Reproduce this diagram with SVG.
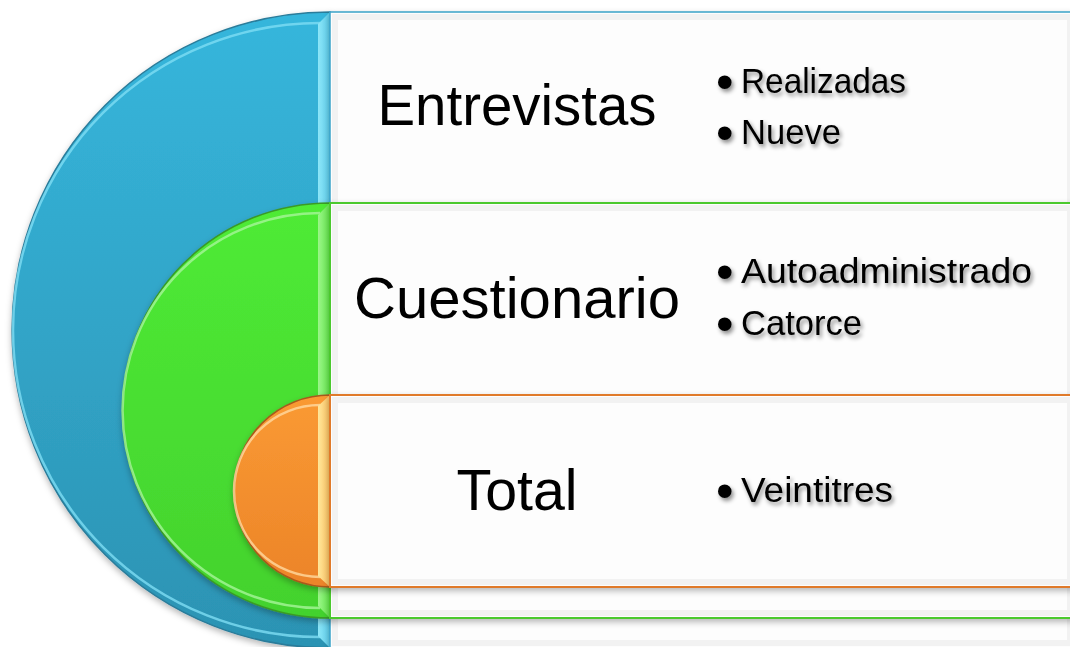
<svg xmlns="http://www.w3.org/2000/svg" width="1070" height="647" viewBox="0 0 1070 647">
<defs>
<linearGradient id="gBlue" x1="0" y1="0" x2="0" y2="1"><stop offset="0" stop-color="#36B6DC"/><stop offset="1" stop-color="#2C93B3"/></linearGradient>
<linearGradient id="gGreen" x1="0" y1="0" x2="0" y2="1"><stop offset="0" stop-color="#4FEB36"/><stop offset="1" stop-color="#43D22D"/></linearGradient>
<linearGradient id="gOrange" x1="0" y1="0" x2="0" y2="1"><stop offset="0" stop-color="#FA9A33"/><stop offset="1" stop-color="#EC8429"/></linearGradient>
<linearGradient id="sBlue" x1="0" y1="0" x2="1" y2="0"><stop offset="0" stop-color="#8DE6F8"/><stop offset="1" stop-color="#5CCDEB"/></linearGradient>
<linearGradient id="sGreen" x1="0" y1="0" x2="1" y2="0"><stop offset="0" stop-color="#9CF58A"/><stop offset="1" stop-color="#63E84B"/></linearGradient>
<linearGradient id="sOrange" x1="0" y1="0" x2="1" y2="0"><stop offset="0" stop-color="#FFE79A"/><stop offset="1" stop-color="#FBC060"/></linearGradient>
<filter id="sh" x="-10%" y="-10%" width="120%" height="130%"><feDropShadow dx="0" dy="3" stdDeviation="3" flood-color="#000" flood-opacity="0.28"/></filter>
<filter id="tsh" x="-10%" y="-30%" width="130%" height="180%"><feDropShadow dx="2" dy="3" stdDeviation="2" flood-color="#000" flood-opacity="0.45"/></filter>
</defs>
<style>
.big{font-family:"Liberation Sans",Arial,sans-serif;font-size:57px;fill:#000;text-anchor:middle}
.bul{font-family:"Liberation Sans",Arial,sans-serif;font-size:35px;fill:#000}
.dot{font-family:"Liberation Sans",Arial,sans-serif;font-size:50px;fill:#000}
.box{fill:#FDFDFD}
.bev{fill:none;stroke:#F2F2F2;stroke-width:6}
</style>
<rect width="1070" height="647" fill="#FFFFFF"/>
<g id="connectors"/>
<g id="node-entrevistas">
<path d="M330,12 A318,318 0 0 0 330,648 Z" fill="url(#gBlue)" stroke="#2A7C9A" stroke-width="1.5" filter="url(#sh)"/>
<path d="M320,23 A307,307 0 0 0 320,637" fill="none" stroke="#7EDDF4" stroke-width="2.5" opacity="0.8"/>
<path d="M318,24 L330,12 L330,648 L318,636 Z" fill="url(#sBlue)"/>
<rect class="box" x="330" y="12" width="745" height="636" stroke="#3BA3C8" stroke-width="1.5" filter="url(#sh)"/>
<rect class="bev" x="335" y="17" width="735" height="626"/>
<text class="big" x="517" y="125" textLength="279" lengthAdjust="spacingAndGlyphs">Entrevistas</text>
<g filter="url(#tsh)">
<text class="dot" x="716" y="99">•</text><text class="bul" x="741" y="93" textLength="165" lengthAdjust="spacingAndGlyphs">Realizadas</text>
<text class="dot" x="716" y="150">•</text><text class="bul" x="741" y="144" textLength="100" lengthAdjust="spacingAndGlyphs">Nueve</text>
</g>
</g>
<g id="node-cuestionario">
<path d="M330,203 A207.5,207.5 0 0 0 330,618 Z" fill="url(#gGreen)" stroke="#3A9A28" stroke-width="1.5" filter="url(#sh)"/>
<path d="M320,213 A197,197 0 0 0 320,608" fill="none" stroke="#A6F59A" stroke-width="2.5" opacity="0.8"/>
<path d="M318,215 L330,203 L330,618 L318,606 Z" fill="url(#sGreen)"/>
<rect class="box" x="330" y="203" width="745" height="415" stroke="#4CC92F" stroke-width="2" filter="url(#sh)"/>
<rect class="bev" x="335" y="208" width="735" height="405"/>
<text class="big" x="517" y="318" textLength="326" lengthAdjust="spacingAndGlyphs">Cuestionario</text>
<g filter="url(#tsh)">
<text class="dot" x="716" y="289">•</text><text class="bul" x="741" y="283" textLength="291" lengthAdjust="spacingAndGlyphs">Autoadministrado</text>
<text class="dot" x="716" y="341">•</text><text class="bul" x="741" y="335" textLength="121" lengthAdjust="spacingAndGlyphs">Catorce</text>
</g>
</g>
<g id="node-total">
<path d="M330,395 A96,96 0 0 0 330,587 Z" fill="url(#gOrange)" stroke="#A85A1E" stroke-width="1.5" filter="url(#sh)"/>
<path d="M320,405 A86,86 0 0 0 320,577" fill="none" stroke="#FFD9A0" stroke-width="2.5" opacity="0.8"/>
<path d="M318,406 L330,395 L330,587 L318,576 Z" fill="url(#sOrange)"/>
<rect class="box" x="330" y="395" width="745" height="192" stroke="#E07A2C" stroke-width="2" filter="url(#sh)"/>
<rect class="bev" x="335" y="400" width="735" height="182"/>
<text class="big" x="517" y="510" textLength="121" lengthAdjust="spacingAndGlyphs">Total</text>
<g filter="url(#tsh)">
<text class="dot" x="716" y="508">•</text><text class="bul" x="741" y="502" textLength="152" lengthAdjust="spacingAndGlyphs">Veintitres</text>
</g>
</g>
</svg>
